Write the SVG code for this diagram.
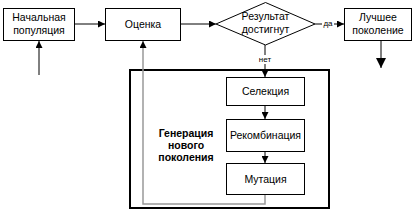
<svg xmlns="http://www.w3.org/2000/svg" width="420" height="219" viewBox="0 0 420 219">
<defs>
<marker id="ah" viewBox="0 0 10 10" refX="10" refY="5" markerWidth="7" markerHeight="7" markerUnits="userSpaceOnUse" orient="auto"><path d="M0,0 L10,5 L0,10 z" fill="#000"/></marker>
<marker id="ahb" viewBox="0 0 10 10" refX="10" refY="5" markerWidth="10" markerHeight="10" markerUnits="userSpaceOnUse" orient="auto"><path d="M0,0 L10,5 L0,10 z" fill="#000"/></marker>
<style>
.box{fill:#fff;stroke:#000;stroke-width:1}
.t{font-family:"Liberation Sans",Arial,sans-serif;font-size:10.5px;fill:#000;text-anchor:middle}
.s{font-family:"Liberation Sans",Arial,sans-serif;font-size:8px;fill:#000;text-anchor:middle}
.b{font-weight:bold}
.c{fill:none;stroke:#000;stroke-width:1}
.g{fill:none;stroke:#999;stroke-width:1.5}
</style>
</defs>
<rect width="420" height="219" fill="#fff"/>
<g id="group-generation">
<rect x="130" y="70" width="199" height="138" fill="none" stroke="#000" stroke-width="2"/>
<text class="t b" x="186" y="137">Генерация</text>
<text class="t b" x="186" y="149">нового</text>
<text class="t b" x="186" y="161">поколения</text>
</g>
<g id="connectors">
<path class="g" d="M265,194 V204 H143 V41" marker-end="url(#ah)"/>
<path class="c" d="M39,75 V41" marker-end="url(#ah)"/>
<path class="c" d="M75,24 H105" marker-end="url(#ah)"/>
<path class="c" d="M180,24 H216" marker-end="url(#ah)"/>
<path class="c" d="M315,24 H344" marker-end="url(#ah)"/>
<path class="c" d="M381,40 V68" marker-end="url(#ahb)"/>
<path class="c" d="M265,45 V77" marker-end="url(#ah)"/>
<path class="c" d="M265,105 V119" marker-end="url(#ah)"/>
<path class="c" d="M265,151 V163" marker-end="url(#ah)"/>
<rect x="322" y="19" width="12" height="9" fill="#fff"/>
<text class="s" x="328" y="26">да</text>
<rect x="257" y="55" width="16" height="9" fill="#fff"/>
<text class="s" x="265" y="62">нет</text>
</g>
<g id="node-start">
<rect class="box" x="3.5" y="8.5" width="71" height="32"/>
<text class="t" x="39" y="21">Начальная</text>
<text class="t" x="39" y="34">популяция</text>
</g>
<g id="node-eval">
<rect class="box" x="105.5" y="8.5" width="75" height="32"/>
<text class="t" x="143" y="28">Оценка</text>
</g>
<g id="node-decision">
<polygon class="box" points="216,24 265.5,2.5 315,24 265.5,45"/>
<text class="t" x="265.5" y="20">Результат</text>
<text class="t" x="265.5" y="33">достигнут</text>
</g>
<g id="node-best">
<rect class="box" x="344.5" y="8.5" width="67" height="32"/>
<text class="t" x="378" y="21">Лучшее</text>
<text class="t" x="378" y="34">поколение</text>
</g>
<g id="node-selection">
<rect class="box" x="226.5" y="77.5" width="78" height="28"/>
<text class="t" x="265.5" y="95">Селекция</text>
</g>
<g id="node-recombination">
<rect class="box" x="226.5" y="119.5" width="78" height="32"/>
<text class="t" x="265.5" y="139">Рекомбинация</text>
</g>
<g id="node-mutation">
<rect class="box" x="226.5" y="163.5" width="78" height="31"/>
<text class="t" x="265.5" y="183">Мутация</text>
</g>
</svg>
